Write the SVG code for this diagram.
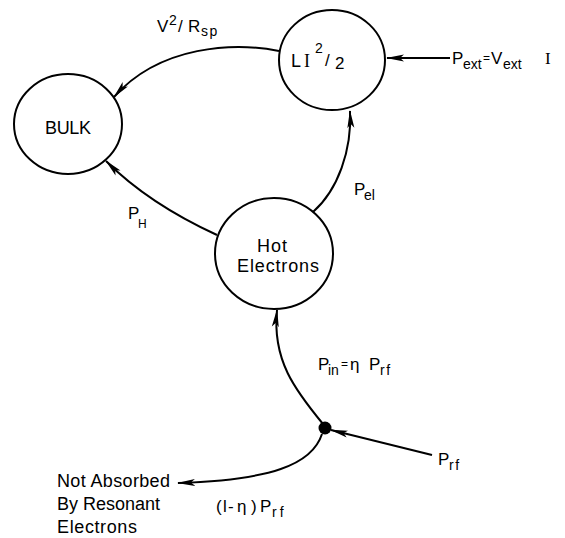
<svg xmlns="http://www.w3.org/2000/svg" width="565" height="538" viewBox="0 0 565 538">
<defs>
<style>
.node{fill:none;stroke:#000;stroke-width:2}
.edge{fill:none;stroke:#000;stroke-width:2}
text{font-family:"Liberation Sans",Arial,sans-serif;fill:#000}
.nt{font-size:18px}
.lb{font-size:17px}
.sb{font-size:14px}
.eq{font-size:12px}
.sp{letter-spacing:1.5px}
.sf{font-family:"Liberation Serif","Times New Roman",serif}
</style>
<marker id="ah" markerUnits="userSpaceOnUse" markerWidth="18" markerHeight="8" refX="17" refY="4" orient="auto">
<path d="M0,0.5 L18,4 L0,7.5 L4,4 z" fill="#000"/>
</marker>
</defs>
<rect width="565" height="538" fill="#fff"/>

<g id="edges">
<path class="edge" d="M279,51 C235,42 160,45 114,97" marker-end="url(#ah)"/>
<path class="edge" d="M450,58 L387,58" marker-end="url(#ah)"/>
<path class="edge" d="M313,212 C338,190 352,150 350,111" marker-end="url(#ah)"/>
<path class="edge" d="M217,235 C180,218 140,195 106,161" marker-end="url(#ah)"/>
<path class="edge" d="M323,424 C295,390 272,360 277,310" marker-end="url(#ah)"/>
<path class="edge" d="M432,455 L331,430" marker-end="url(#ah)"/>
<path class="edge" d="M322,434 C312,465 270,480 178,483" marker-end="url(#ah)"/>
<circle cx="325" cy="428" r="6.5" fill="#000"/>
</g>

<g id="bulk">
<ellipse class="node" cx="68" cy="124" rx="54" ry="50"/>
<text class="nt" x="45" y="134" textLength="46" lengthAdjust="spacing">BULK</text>
</g>

<g id="energy">
<ellipse class="node" cx="332" cy="60" rx="53" ry="50"/>
<text class="nt" x="291" y="67">L</text>
<text class="nt sf" x="304" y="67">I</text>
<text class="sb" x="315" y="53">2</text>
<text class="lb" x="325" y="66">/</text>
<text class="lb" x="335" y="69">2</text>
</g>

<g id="hot">
<ellipse class="node" cx="274" cy="253.5" rx="59" ry="55.5"/>
<text class="nt" x="257" y="252" textLength="30" lengthAdjust="spacing">Hot</text>
<text class="nt" x="237" y="272" textLength="82" lengthAdjust="spacing">Electrons</text>
</g>

<g id="labels">
<text class="lb" x="157" y="32">V</text>
<text class="sb" x="169" y="25">2</text>
<text class="lb" x="178" y="32">/</text>
<text class="lb" x="188" y="32">R</text>
<text class="sb sp" x="201" y="36">sp</text>

<text class="lb" x="452" y="64">P</text>
<text class="sb" x="463" y="69">ext</text>
<text class="eq" x="483" y="62">=</text>
<text class="lb" x="491" y="64">V</text>
<text class="sb" x="503" y="69">ext</text>
<text class="lb sf" x="545" y="64">I</text>

<text class="lb" x="354" y="195">P</text>
<text class="sb" x="364" y="200">el</text>

<text class="lb" x="128" y="219">P</text>
<text class="sb" x="138" y="228" style="font-size:12px">H</text>

<text class="lb" x="318" y="370">P</text>
<text class="sb" x="328" y="375">in</text>
<text class="eq" x="341" y="368">=</text>
<text class="lb" x="350" y="370">η</text>
<text class="lb" x="369" y="370">P</text>
<text class="sb sp" x="380" y="375">rf</text>

<text class="lb" x="438" y="465">P</text>
<text class="sb sp" x="449" y="470">rf</text>

<text class="lb" x="216" y="512">(</text>
<text class="lb" x="223" y="512">l</text>
<text class="lb" x="228" y="512">-</text>
<text class="lb" x="237" y="512">η</text>
<text class="lb" x="251" y="512">)</text>
<text class="lb" x="260" y="512">P</text>
<text class="sb" x="272" y="517" style="letter-spacing:3px">rf</text>

<text class="nt" x="57" y="487" textLength="113" lengthAdjust="spacing">Not Absorbed</text>
<text class="nt" x="57" y="510" textLength="103" lengthAdjust="spacing">By Resonant</text>
<text class="nt" x="57" y="533" textLength="80" lengthAdjust="spacing">Electrons</text>
</g>
</svg>
